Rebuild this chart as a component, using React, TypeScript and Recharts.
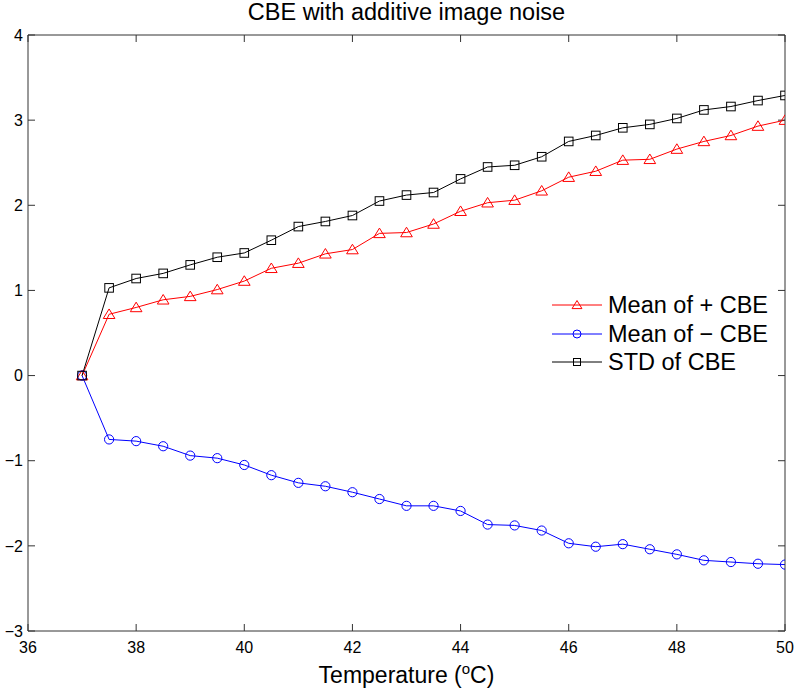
import React from 'react'
import { LineChart, Line, XAxis, YAxis, Legend, Label } from 'recharts'

// temperatures (°C) sampled every 0.5 degree
const temperatures = [
  37, 37.5, 38, 38.5, 39, 39.5, 40, 40.5, 41, 41.5, 42, 42.5, 43, 43.5,
  44, 44.5, 45, 45.5, 46, 46.5, 47, 47.5, 48, 48.5, 49, 49.5, 50,
]
const meanPlus = [
  0, 0.72, 0.8, 0.89, 0.93, 1.01, 1.11, 1.26, 1.32, 1.43, 1.48, 1.67, 1.68, 1.78,
  1.93, 2.03, 2.06, 2.17, 2.33, 2.4, 2.53, 2.54, 2.66, 2.75, 2.82, 2.93, 3.0,
]
const meanMinus = [
  0, -0.75, -0.77, -0.83, -0.94, -0.97, -1.05, -1.17, -1.26, -1.3, -1.37, -1.45, -1.53, -1.53,
  -1.59, -1.75, -1.76, -1.82, -1.97, -2.01, -1.98, -2.04, -2.1, -2.17, -2.19, -2.21, -2.22,
]
const stdCbe = [
  0, 1.03, 1.14, 1.2, 1.3, 1.39, 1.44, 1.59, 1.75, 1.81, 1.88, 2.05, 2.12, 2.15,
  2.31, 2.45, 2.47, 2.57, 2.75, 2.82, 2.91, 2.95, 3.02, 3.12, 3.16, 3.23, 3.29,
]
const xTicks = [36, 38, 40, 42, 44, 46, 48, 50]
const yTicks = [-3, -2, -1, 0, 1, 2, 3, 4]

const FONT = '"Liberation Sans", Arial, Helvetica, sans-serif'
const AXIS = '#333'

const data = temperatures.map((t, i) => ({
  t,
  plus: meanPlus[i],
  minus: meanMinus[i],
  std: stdCbe[i],
}))

const fmt = (v: number) => (v < 0 ? '\u2212' + Math.abs(v) : String(v))

const triPath = (cx: number, cy: number, s: number) =>
  `M${cx},${cy - s}L${cx + s * 1.1},${cy + s * 0.8}L${cx - s * 1.1},${cy + s * 0.8}Z`

const TriangleDot = (p: any) =>
  p.cx == null ? null : (
    <path key={`tri-${p.index}`} d={triPath(p.cx, p.cy, 5.3)} fill="none" stroke="#ff0000" strokeWidth={1} />
  )
const CircleDot = (p: any) =>
  p.cx == null ? null : (
    <circle key={`cir-${p.index}`} cx={p.cx} cy={p.cy} r={4.6} fill="none" stroke="#0000ff" strokeWidth={1} />
  )
const SquareDot = (p: any) =>
  p.cx == null ? null : (
    <rect key={`sq-${p.index}`} x={p.cx - 4.3} y={p.cy - 4.3} width={8.6} height={8.6} fill="none" stroke="#000" strokeWidth={1} />
  )

const legendItems = [
  { label: 'Mean of + CBE', color: '#ff0000', marker: 'tri' },
  { label: 'Mean of \u2212 CBE', color: '#0000ff', marker: 'cir' },
  { label: 'STD of CBE', color: '#000000', marker: 'sq' },
]

const LegendBox = () => (
  <div style={{ fontFamily: FONT, fontSize: 23.5, color: '#000' }}>
    {legendItems.map((it) => (
      <div key={it.label} style={{ display: 'flex', alignItems: 'center', height: 28.5 }}>
        <svg width={56} height={20} style={{ display: 'block' }}>
          <line x1={0} x2={50} y1={10} y2={10} stroke={it.color} strokeWidth={1} />
          {it.marker === 'tri' && <path d={triPath(25, 10, 4.5)} fill="none" stroke={it.color} />}
          {it.marker === 'cir' && <circle cx={25} cy={10} r={4} fill="none" stroke={it.color} />}
          {it.marker === 'sq' && <rect x={21.5} y={6.5} width={7} height={7} fill="none" stroke={it.color} />}
        </svg>
        <span style={{ whiteSpace: 'nowrap', lineHeight: '28px' }}>{it.label}</span>
      </div>
    ))}
  </div>
)

const XLabel = (props: any) => {
  const vb = props.viewBox || { x: 28, y: 631, width: 757, height: 66 }
  return (
    <text
      x={vb.x + vb.width / 2}
      y={vb.y + vb.height - 14}
      textAnchor="middle"
      fontFamily={FONT}
      fontSize={23}
      fill="#000"
    >
      Temperature (
      <tspan dy={-9} fontSize={15}>o</tspan>
      <tspan dy={9}>C)</tspan>
    </text>
  )
}

const tickStyle = { fontFamily: FONT, fontSize: 16, fill: '#000' }

export default function App() {
  return (
    <div style={{ position: 'absolute', left: 0, top: 0, width: 800, height: 697, background: '#fff' }}>
      <div
        style={{
          position: 'absolute',
          left: 0,
          top: 1,
          width: 813,
          textAlign: 'center',
          fontFamily: FONT,
          fontSize: 23.5,
          lineHeight: '23.5px',
          color: '#000',
          zIndex: 1,
        }}
      >
        CBE with additive image noise
      </div>
      <LineChart width={800} height={697} data={data} margin={{ top: 34, right: 14, bottom: 0, left: 0 }}>
        <XAxis
          xAxisId="b"
          dataKey="t"
          type="number"
          domain={[36, 50]}
          ticks={xTicks}
          allowDataOverflow
          height={66}
          tickSize={-7}
          tickMargin={17.5}
          tick={tickStyle}
          stroke={AXIS}
          tickFormatter={fmt}
        >
          <Label content={XLabel} />
        </XAxis>
        <XAxis
          xAxisId="t"
          orientation="top"
          dataKey="t"
          type="number"
          domain={[36, 50]}
          ticks={xTicks}
          allowDataOverflow
          height={1}
          tickSize={-7}
          tick={() => null}
          stroke={AXIS}
        />
        <YAxis
          yAxisId="l"
          type="number"
          domain={[-3, 4]}
          ticks={yTicks}
          allowDataOverflow
          width={28}
          tickSize={-7}
          tickMargin={12}
          tick={tickStyle}
          stroke={AXIS}
          tickFormatter={fmt}
        />
        <YAxis
          yAxisId="r"
          orientation="right"
          type="number"
          domain={[-3, 4]}
          ticks={yTicks}
          allowDataOverflow
          width={1}
          tickSize={-7}
          tick={() => null}
          stroke={AXIS}
        />
        <Legend
          layout="vertical"
          align="center"
          verticalAlign="middle"
          content={LegendBox}
          wrapperStyle={{ left: 552, top: 291, width: 'auto' }}
        />
        <Line
          xAxisId="b"
          yAxisId="l"
          type="linear"
          dataKey="plus"
          name="Mean of + CBE"
          stroke="#ff0000"
          strokeWidth={1}
          dot={TriangleDot}
          isAnimationActive={false}
        />
        <Line
          xAxisId="b"
          yAxisId="l"
          type="linear"
          dataKey="minus"
          name="Mean of − CBE"
          stroke="#0000ff"
          strokeWidth={1}
          dot={CircleDot}
          isAnimationActive={false}
        />
        <Line
          xAxisId="b"
          yAxisId="l"
          type="linear"
          dataKey="std"
          name="STD of CBE"
          stroke="#000000"
          strokeWidth={1}
          dot={SquareDot}
          isAnimationActive={false}
        />
      </LineChart>
    </div>
  )
}
